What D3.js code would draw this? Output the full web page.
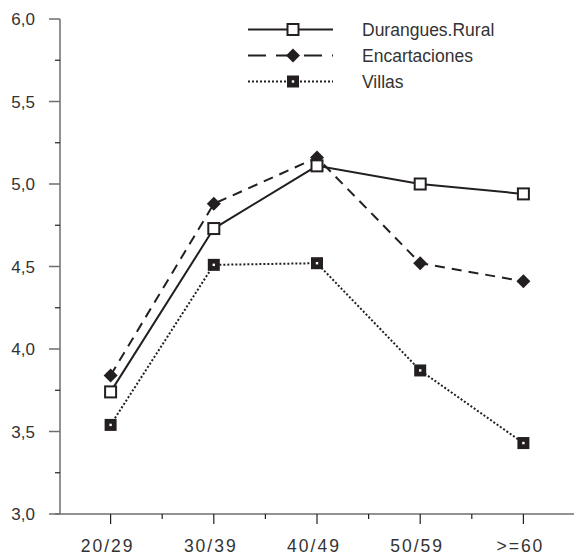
<!DOCTYPE html>
<html><head><meta charset="utf-8">
<script src="https://cdn.jsdelivr.net/npm/d3@7"></script>
<style>
body{margin:0;background:#fff;}
text{font-family:"Liberation Sans",Arial,sans-serif;fill:#333;}
</style></head>
<body><svg id="c" width="574" height="557"></svg>
<script>
const categories = ["20/29","30/39","40/49","50/59",">=60"];
const durangues = [3.74, 4.73, 5.11, 5.00, 4.94];
const encartaciones = [3.84, 4.88, 5.16, 4.52, 4.41];
const villas = [3.54, 4.51, 4.52, 3.87, 3.43];
const seriesNames = ["Durangues.Rural","Encartaciones","Villas"];
const yTicks = [3.0,3.5,4.0,4.5,5.0,5.5,6.0];

const svg = d3.select("#c");
const x = d3.scalePoint().domain(categories).range([59,575]).padding(0.5);
const y = d3.scaleLinear().domain([3,6]).range([514,19]);
const ink = "#231f20", axisCol = "#6e6e6e";

// y axis
const ya = svg.append("g");
ya.append("line").attr("x1",60).attr("x2",60).attr("y1",y(6)).attr("y2",y(3)).attr("stroke",axisCol).attr("stroke-width",1.5);
d3.range(3,6.01,0.25).forEach(v=>{
  const major = Math.abs(v*2-Math.round(v*2))<1e-6;
  ya.append("line").attr("x1",major?49:55).attr("x2",60).attr("y1",y(v)).attr("y2",y(v))
    .attr("stroke",major?axisCol:ink).attr("stroke-width",major?1.5:1.2);
});
ya.selectAll("text.yl").data(yTicks).join("text").attr("class","yl")
  .attr("x",35).attr("y",d=>y(d)).attr("dy","0.36em").attr("text-anchor","end")
  .attr("font-size",17).text(d=>d3.format(".1f")(d).replace(".",","));

// x axis
const xa = svg.append("g");
xa.append("line").attr("x1",55).attr("x2",574).attr("y1",514).attr("y2",514).attr("stroke",axisCol).attr("stroke-width",1.5);
const step = x.step();
categories.forEach((c,i)=>{
  xa.append("line").attr("x1",x(c)).attr("x2",x(c)).attr("y1",514).attr("y2",524).attr("stroke",ink).attr("stroke-width",1.2);
  const m = x(c)+step/2;
  if(m<574) xa.append("line").attr("x1",m).attr("x2",m).attr("y1",514).attr("y2",519).attr("stroke",ink).attr("stroke-width",1.2);
});
xa.selectAll("text.xl").data(categories).join("text").attr("class","xl")
  .attr("x",d=>x(d)-3).attr("y",552).attr("text-anchor","middle")
  .attr("font-size",17.5).attr("letter-spacing","2px").text(d=>d);

const styles = [
  {data:durangues, dash:null, marker:"open"},
  {data:encartaciones, dash:"10,7", marker:"diamond"},
  {data:villas, dash:"2,2", marker:"filled"}
];
const line = d3.line().x((d,i)=>x(categories[i])).y(d=>y(d));

function drawMarker(g, type, cx, cy){
  if(type==="open"){
    g.append("rect").attr("x",cx-5.5).attr("y",cy-5.5).attr("width",11).attr("height",11)
     .attr("fill","#fff").attr("stroke",ink).attr("stroke-width",2);
  } else if(type==="diamond"){
    g.append("path").attr("d",`M${cx},${cy-7}L${cx+7},${cy}L${cx},${cy+7}L${cx-7},${cy}Z`).attr("fill",ink);
  } else {
    g.append("rect").attr("x",cx-6).attr("y",cy-6).attr("width",12).attr("height",12).attr("fill",ink);
    g.append("rect").attr("x",cx-1.2).attr("y",cy-1.2).attr("width",2.4).attr("height",2.4).attr("fill","#fff");
  }
}

const plot = svg.append("g");
styles.slice().reverse().forEach(s=>{
  plot.append("path").attr("d",line(s.data)).attr("fill","none").attr("stroke",ink)
    .attr("stroke-width",2).attr("stroke-dasharray",s.dash);
});
styles.slice().reverse().forEach(s=>{
  s.data.forEach((v,i)=>drawMarker(plot,s.marker,x(categories[i]),y(v)));
});

// legend
const lg = svg.append("g");
const ly = [29.5,55.5,81.5];
styles.forEach((s,i)=>{
  lg.append("line").attr("x1",248).attr("x2",333).attr("y1",ly[i]).attr("y2",ly[i])
    .attr("stroke",ink).attr("stroke-width",2).attr("stroke-dasharray",s.dash?(s.dash==="10,7"?"18,10":s.dash):null);
  drawMarker(lg,s.marker,293,ly[i]);
  lg.append("text").attr("x",362).attr("y",ly[i]).attr("dy","0.36em").attr("font-size",17.5).text(seriesNames[i]);
});
</script></body></html>
